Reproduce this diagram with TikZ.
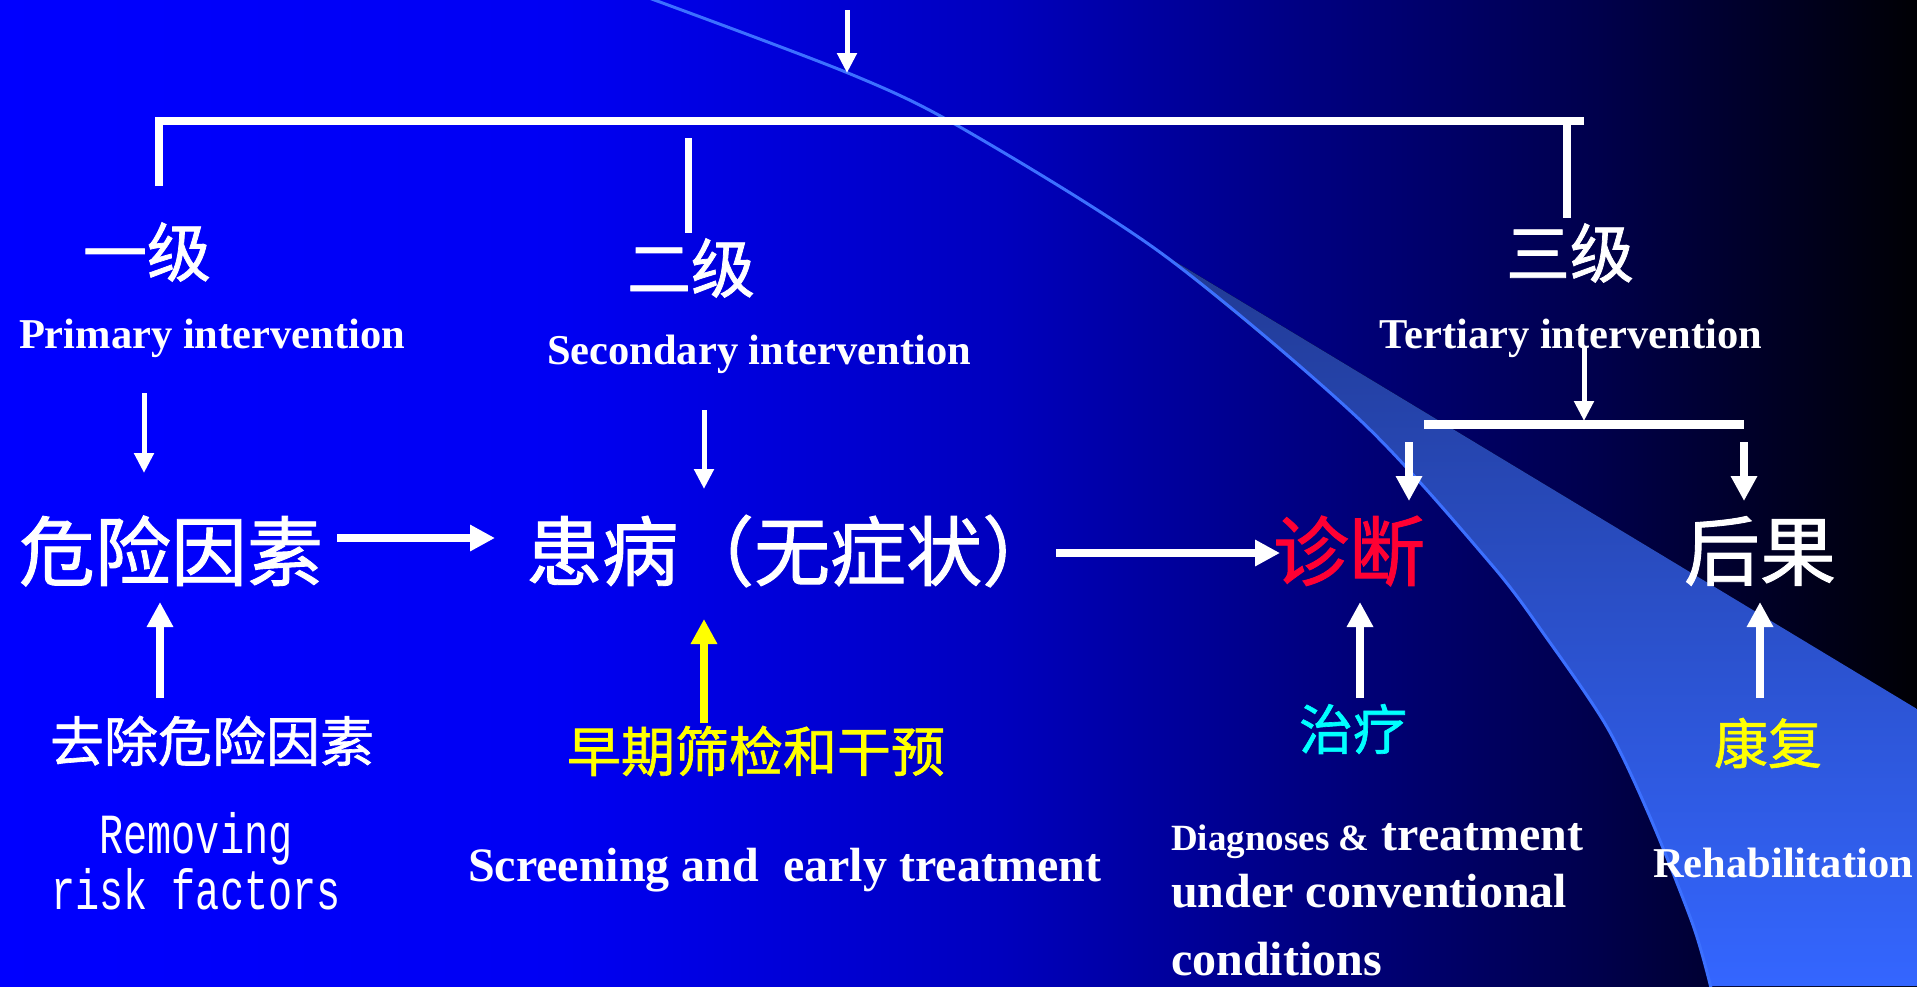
\documentclass[tikz,border=0pt]{standalone}
\usepackage{fontspec}
\setmainfont{Liberation Serif}
\newfontfamily\cjk[FakeBold=1.2]{Noto Sans CJK SC}
\newfontfamily\monof{Liberation Mono}
\usetikzlibrary{arrows.meta}
\definecolor{bgA}{RGB}{0,0,255}
\definecolor{bgB}{RGB}{0,0,243}
\definecolor{bgC}{RGB}{0,0,190}
\definecolor{bgD}{RGB}{0,0,130}
\definecolor{bgE}{RGB}{0,0,75}
\definecolor{bgF}{RGB}{0,0,4}
\definecolor{wedgeA}{RGB}{33,58,148}
\definecolor{wedgeB}{RGB}{52,102,255}
\definecolor{swoosh}{RGB}{60,112,255}
\definecolor{redtxt}{RGB}{255,0,51}
\definecolor{cyantxt}{RGB}{0,255,255}
\definecolor{yellowtxt}{RGB}{255,255,0}
\tikzset{
  thinarrow/.style={draw=white, line width=5pt, -{Triangle[width=19pt,length=20pt]}},
  thickarrow/.style={draw=white, line width=8pt, -{Triangle[width=25pt,length=25pt]}},
  barline/.style={draw=white, line width=8pt, line join=miter},
  cjkbig/.style={inner sep=0pt, text=white, font=\cjk\fontsize{76}{80}\selectfont},
  cjkmid/.style={inner sep=0pt, text=white, font=\cjk\fontsize{64}{70}\selectfont},
  cjksmall/.style={inner sep=0pt, text=white, font=\cjk\fontsize{54}{60}\selectfont},
  entitle/.style={inner sep=0pt, text=white, font=\bfseries\fontsize{42.5}{48}\selectfont},
  enbig/.style={inner sep=0pt, text=white, font=\bfseries\fontsize{48}{54}\selectfont},
  monotxt/.style={inner sep=0pt, text=white, font=\monof\fontsize{40.2}{46}\selectfont}
}
\begin{document}
\begin{tikzpicture}[x=1pt,y=-1pt]
\useasboundingbox (0,0) rectangle (1917,986);
% background gradient
\fill[left color=bgA, right color=bgB] (0,0) rectangle (561,986);
\fill[left color=bgB, right color=bgC] (560,0) rectangle (1001,986);
\fill[left color=bgC, right color=bgD] (1000,0) rectangle (1301,986);
\fill[left color=bgD, right color=bgE] (1300,0) rectangle (1601,986);
\fill[left color=bgE, right color=bgF] (1600,0) rectangle (1917,986);
% swoosh wedge
\fill[top color=wedgeA, bottom color=wedgeB] (1161,253) -- (1917,709) -- (1917,986) -- (1711,986)
  -- plot[smooth] coordinates {(1711,986) (1693,925) (1650,817) (1607,727) (1546,637) (1491,564) (1360,420) (1161,253)} -- cycle;
\draw[swoosh, line width=3pt] plot[smooth] coordinates {(649,-2) (848,73) (960,127) (1161,253) (1360,420) (1491,564) (1546,637) (1607,727) (1650,817) (1693,925) (1711,988)};

% connector coordinates
\coordinate (topA) at (847,10);
\coordinate (topB) at (847,73);
\coordinate (barL) at (159,121);
\coordinate (barR) at (1584,121);
\coordinate (dropL) at (159,186);
\coordinate (dropRa) at (1567,121);
\coordinate (dropRb) at (1567,218);
\coordinate (midA) at (688,138);
\coordinate (midB) at (688,233);
\coordinate (p1a) at (144,393);
\coordinate (p1b) at (144,473);
\coordinate (p2a) at (704,410);
\coordinate (p2b) at (704,489);
\coordinate (p3a) at (1584,347);
\coordinate (p3b) at (1584,421);
\coordinate (sbL) at (1424,424);
\coordinate (sbR) at (1744,424);
\coordinate (d1a) at (1409,442);
\coordinate (d1b) at (1409,501);
\coordinate (d2a) at (1744,442);
\coordinate (d2b) at (1744,501);
\coordinate (h1a) at (337,538);
\coordinate (h1b) at (495,538);
\coordinate (h2a) at (1056,553);
\coordinate (h2b) at (1280,553);
\coordinate (u1a) at (160,698);
\coordinate (u1b) at (160,602);
\coordinate (u2a) at (704,723);
\coordinate (u2b) at (704,619);
\coordinate (u3a) at (1360,698);
\coordinate (u3b) at (1360,602);
\coordinate (u4a) at (1760,698);
\coordinate (u4b) at (1760,602);

% level titles
\node[cjkmid] (lv1) at (147,252) {一级};
\node[cjkmid] (lv2) at (691,268) {二级};
\node[cjkmid] (lv3) at (1570,253) {三级};
\node[entitle, anchor=base] (pri) at (212,348) {Primary intervention};
\node[entitle, anchor=base] (sec) at (759,364) {Secondary intervention};
\node[entitle, anchor=base] (ter) at (1571,348) {Tertiary intervention};

% main row
\node[cjkbig] (risk) at (171,551) {危险因素};
\node[cjkbig, anchor=west] (ill) at (526,551) {患病（无症状）};
\node[cjkbig, text=redtxt] (diag) at (1349,551) {诊断};
\node[cjkbig] (out) at (1760,551) {后果};

% measures
\node[cjksmall] (rem) at (212,741) {去除危险因素};
\node[cjksmall, text=yellowtxt] (scr) at (756,751) {早期筛检和干预};
\node[cjksmall, text=cyantxt] (treat) at (1353,729) {治疗};
\node[cjksmall, text=yellowtxt] (rehab) at (1768,743) {康复};

% english notes
\node[monotxt, anchor=base] (remA) at (196,853) {\scalebox{1}[1.41]{Removing}};
\node[monotxt, anchor=base] (remB) at (196,909) {\scalebox{1}[1.41]{risk factors}};
\node[enbig, anchor=base west] (scrE) at (468,881) {Screening and~~early treatment};
\node[enbig, anchor=base west] (dtA) at (1171,850) {{\fontsize{37}{42}\selectfont Diagnoses \&} treatment};
\node[enbig, anchor=base west] (dtB) at (1171,907) {under conventional};
\node[enbig, anchor=base west] (dtC) at (1171,975) {conditions};
\node[entitle, anchor=base west] (rehE) at (1653,877) {Rehabilitation};

% connectors
\draw[thinarrow] (topA) -- (topB);
\draw[barline] (dropL) -- (barL) -- (barR);
\draw[barline] (dropRa) -- (dropRb);
\draw[barline, line width=7pt] (midA) -- (midB);
\draw[thinarrow] (p1a) -- (p1b);
\draw[thinarrow] (p2a) -- (p2b);
\draw[thinarrow] (p3a) -- (p3b);
\draw[barline, line width=9pt] (sbL) -- (sbR);
\draw[thickarrow] (d1a) -- (d1b);
\draw[thickarrow] (d2a) -- (d2b);
\draw[thickarrow] (h1a) -- (h1b);
\draw[thickarrow] (h2a) -- (h2b);
\draw[thickarrow] (u1a) -- (u1b);
\draw[thickarrow, draw=yellowtxt] (u2a) -- (u2b);
\draw[thickarrow] (u3a) -- (u3b);
\draw[thickarrow] (u4a) -- (u4b);
\end{tikzpicture}
\end{document}
